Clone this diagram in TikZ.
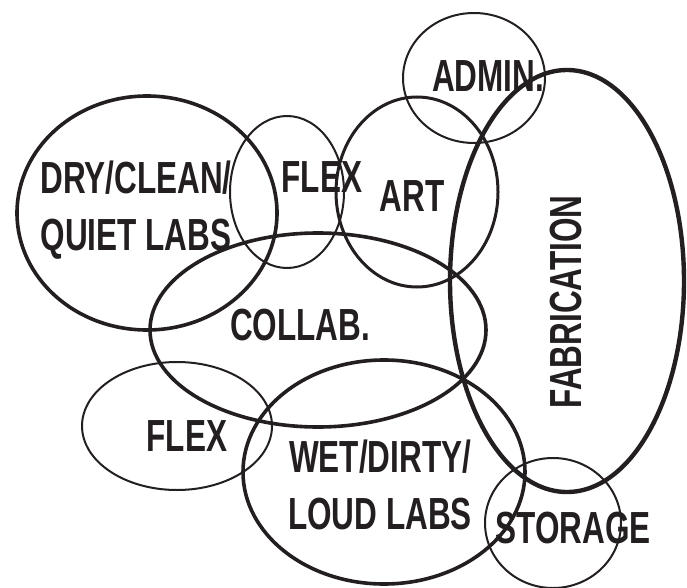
\documentclass[tikz,border=0pt]{standalone}
\usepackage{fontspec}
\newfontfamily\labfont[FakeStretch=0.70]{Liberation Sans}
\definecolor{ink}{HTML}{231F20}
\tikzset{
  thickring/.style={draw=ink, line width=3.6pt},
  midring/.style={draw=ink, line width=3pt},
  thinring/.style={draw=ink, line width=2pt},
  lbl/.style={text=ink, inner sep=0pt, align=center,
    font=\labfont\bfseries\fontsize{45}{57}\selectfont}
}
\begin{document}
\begin{tikzpicture}[x=1pt, y=-1pt]
    \useasboundingbox (0,0) rectangle (687,588);
% rooms
\draw[thickring] (147,213) ellipse [x radius=130, y radius=117];
\draw[thinring] (287,192) ellipse [x radius=57, y radius=76];
\draw[midring] (417,192) ellipse [x radius=81, y radius=95];
\draw[thinring] (474,78) ellipse [x radius=71, y radius=65];
\draw[line width=4.4pt, draw=ink] (567,281) ellipse [x radius=117, y radius=211];
\draw[thickring] (318,330) ellipse [x radius=168, y radius=97];
\draw[thinring] (177,426) ellipse [x radius=95, y radius=64];
\draw[thickring] (384,472) ellipse [x radius=141, y radius=112];
\draw[thinring] (553,523) ellipse [x radius=68, y radius=65];
% labels
\node[lbl] (dry) at (136,210) {DRY/CLEAN/\\QUIET LABS};
\node[lbl] (flexa) at (322,177) {FLEX};
\node[lbl] (art) at (412,196) {ART};
\node[lbl] (admin) at (488,76) {ADMIN.};
\node[lbl, rotate=90] (fab) at (566,302) {FABRICATION};
\node[lbl] (collab) at (300,325) {COLLAB.};
\node[lbl] (flexb) at (187,436) {FLEX};
\node[lbl] (wet) at (380,485) {WET/DIRTY/\\LOUD LABS};
\node[lbl] (storage) at (573,528) {STORAGE};
    \end{tikzpicture}
\end{document}
